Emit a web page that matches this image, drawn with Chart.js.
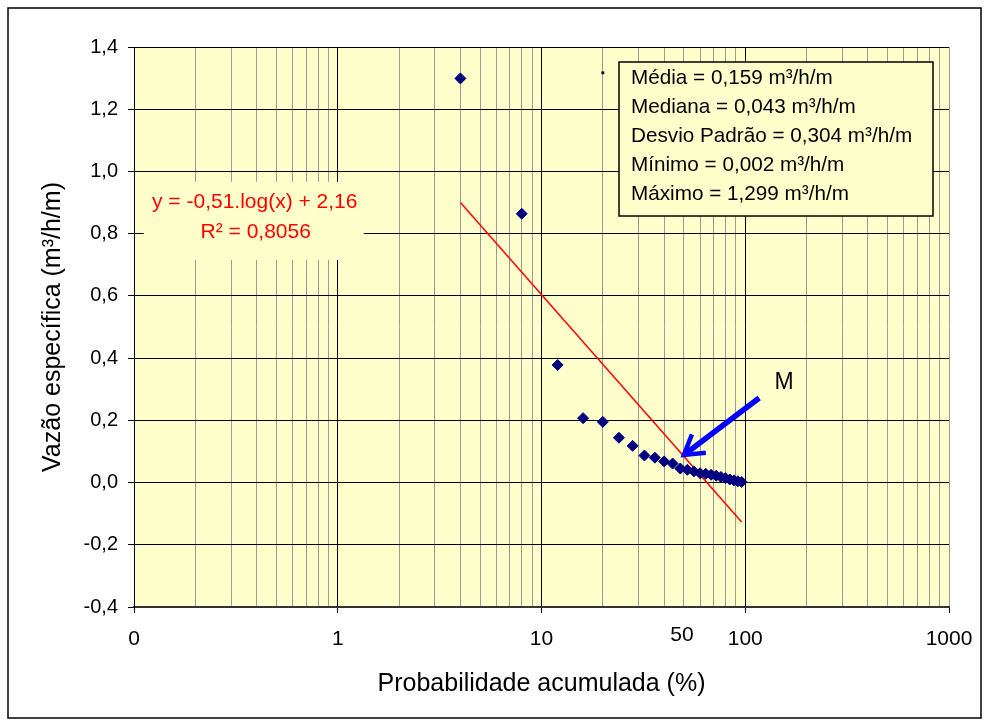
<!DOCTYPE html>
<html>
<head>
<meta charset="utf-8">
<script src="https://cdn.jsdelivr.net/npm/chart.js@4.4.1/dist/chart.umd.min.js"></script>
<style>
  html, body { margin: 0; padding: 0; background: #fff; }
  #wrap { position: relative; width: 989px; height: 727px; }
</style>
</head>
<body>
<div id="wrap"><canvas id="c"></canvas></div>
<script>
// ---- data ----
const probX = [4, 8, 12, 16, 20, 24, 28, 32, 36, 40, 44, 48, 52, 56, 60, 64, 68, 72, 76, 80, 84, 88, 92, 96];
const vazao = [1.299, 0.864, 0.378, 0.207, 0.195, 0.144, 0.118, 0.087, 0.080, 0.068, 0.061, 0.045,
               0.041, 0.036, 0.030, 0.028, 0.025, 0.022, 0.018, 0.014, 0.010, 0.007, 0.004, 0.002];
const trendX = [4, 96];
const trendY = [0.90, -0.127];
const strayX = [20];
const strayY = [1.317];
const arrowX = [117, 50];
const arrowY = [0.272, 0.089];
const arrowLabel = 'M';
const arrowLabelPos = [155, 0.32];
const xTickLabels = { '-1': '0', '0': '1', '1': '10', '2': '100', '3': '1000' };
const extraXLabel = { value: 50, text: '50' };
const eqLines = ['y = -0,51.log(x) + 2,16', 'R² = 0,8056'];
const eqPos = [1.0, 0.87];
const statsLines = [
  'Média = 0,159 m³/h/m',
  'Mediana = 0,043 m³/h/m',
  'Desvio Padrão = 0,304 m³/h/m',
  'Mínimo = 0,002 m³/h/m',
  'Máximo = 1,299 m³/h/m'
];
const yTitle = 'Vazão específica (m³/h/m)';
const xTitle = 'Probabilidade acumulada (%)';

const FONT = '"Liberation Sans", Arial, sans-serif';
const BG = '#FFFFCC';

function isDecade(v) {
  const l = Math.log10(v);
  return Math.abs(l - Math.round(l)) < 1e-6;
}

const decorPlugin = {
  id: 'decor',
  beforeDraw(chart) {
    const {ctx, chartArea: a} = chart;
    ctx.save();
    ctx.fillStyle = '#fff';
    ctx.fillRect(0, 0, chart.width, chart.height);
    ctx.fillStyle = BG;
    ctx.fillRect(a.left, a.top, a.right - a.left, a.bottom - a.top);
    ctx.restore();
  },
  beforeDatasetsDraw(chart) {
    const {ctx} = chart;
    const xs = chart.scales.x, ys = chart.scales.y;
    ctx.save();
    // equation label box
    const ex = xs.getPixelForValue(eqPos[0]) - 84;
    const ey = ys.getPixelForValue(eqPos[1]);
    ctx.fillStyle = BG;
    ctx.fillRect(ex - 110, ey - 30, 220, 78);
    ctx.fillStyle = '#FF0000';
    ctx.font = '21px ' + FONT;
    ctx.textAlign = 'center';
    ctx.textBaseline = 'middle';
    ctx.fillText(eqLines[0], ex + 1, ey - 10);
    ctx.fillText(eqLines[1], ex + 2, ey + 20);
    // stats box
    const bx = 619, by = 62, bw = 314, bh = 154;
    ctx.fillStyle = BG;
    ctx.fillRect(bx, by, bw, bh);
    ctx.strokeStyle = '#000';
    ctx.lineWidth = 1.5;
    ctx.strokeRect(bx, by, bw, bh);
    ctx.fillStyle = '#000';
    ctx.font = '20.7px ' + FONT;
    ctx.textAlign = 'left';
    ctx.textBaseline = 'middle';
    statsLines.forEach((t, i) => ctx.fillText(t, bx + 12, by + 16 + i * 29));
    ctx.restore();
  },
  afterDatasetsDraw(chart) {
    const {ctx} = chart;
    const xs = chart.scales.x, ys = chart.scales.y;
    ctx.save();
    // arrow
    const x1 = xs.getPixelForValue(arrowX[0]), y1 = ys.getPixelForValue(arrowY[0]);
    const x2 = xs.getPixelForValue(arrowX[1]), y2 = ys.getPixelForValue(arrowY[1]);
    const ang = Math.atan2(y2 - y1, x2 - x1);
    ctx.strokeStyle = '#0000FF';
    ctx.lineWidth = 5.5;
    ctx.lineCap = 'butt';
    ctx.beginPath();
    ctx.moveTo(x1, y1);
    ctx.lineTo(x2 - 4 * Math.cos(ang), y2 - 4 * Math.sin(ang));
    ctx.stroke();
    ctx.lineWidth = 4.5;
    const hl = 22, spread = 0.55;
    ctx.beginPath();
    ctx.moveTo(x2 - hl * Math.cos(ang - spread), y2 - hl * Math.sin(ang - spread));
    ctx.lineTo(x2, y2);
    ctx.lineTo(x2 - hl * Math.cos(ang + spread), y2 - hl * Math.sin(ang + spread));
    ctx.stroke();
    // M label
    ctx.fillStyle = '#000';
    ctx.font = '23px ' + FONT;
    ctx.textAlign = 'center';
    ctx.textBaseline = 'middle';
    ctx.fillText(arrowLabel, xs.getPixelForValue(arrowLabelPos[0]), ys.getPixelForValue(arrowLabelPos[1]));
    // extra "50" x label (raised)
    ctx.font = '21px ' + FONT;
    ctx.fillText(extraXLabel.text, xs.getPixelForValue(extraXLabel.value) - 2, chart.chartArea.bottom + 28);
    ctx.restore();
  },
  afterDraw(chart) {
    const {ctx} = chart;
    ctx.save();
    ctx.strokeStyle = '#000';
    ctx.lineWidth = 1.5;
    ctx.strokeRect(8, 8, 973, 710);
    ctx.restore();
  }
};

new Chart(document.getElementById('c'), {
  type: 'scatter',
  data: {
    datasets: [
      {
        label: 'Vazão',
        data: probX.map((x, i) => ({x, y: vazao[i]})),
        pointStyle: 'rectRot',
        pointRadius: 5.5,
        backgroundColor: '#000080',
        borderColor: '#000080',
        borderWidth: 1,
        showLine: false
      },
      {
        label: 'Tendência',
        data: trendX.map((x, i) => ({x, y: trendY[i]})),
        showLine: true,
        borderColor: '#FF0000',
        borderWidth: 1.5,
        pointRadius: 0,
        fill: false
      },
      {
        label: 'ponto',
        data: strayX.map((x, i) => ({x, y: strayY[i]})),
        pointStyle: 'rect',
        pointRadius: 2,
        backgroundColor: '#000',
        borderColor: '#000',
        borderWidth: 0
      }
    ]
  },
  options: {
    responsive: true,
    maintainAspectRatio: false,
    animation: false,
    devicePixelRatio: 1,
    layout: { padding: { top: 47, right: 40, left: 0, bottom: 0 } },
    plugins: { legend: { display: false }, tooltip: { enabled: false } },
    scales: {
      x: {
        type: 'logarithmic',
        min: 0.1,
        max: 1000,
        afterBuildTicks(scale) {
          const t = [];
          for (let e = -1; e <= 2; e++) {
            for (let m = 1; m <= 9; m++) t.push({ value: m * Math.pow(10, e), major: m === 1 });
          }
          t.push({ value: 1000, major: true });
          scale.ticks = t;
        },
        afterFit(scale) { scale.height = 120; },
        ticks: {
          autoSkip: false,
          maxRotation: 0,
          minRotation: 0,
          padding: 14,
          color: '#000',
          font: { family: FONT, size: 21 },
          callback(v) {
            const l = Math.log10(v);
            if (Math.abs(l - Math.round(l)) < 1e-6) return xTickLabels[String(Math.round(l))] || '';
            return '';
          }
        },
        grid: {
          color(ctx) {
            const v = ctx.tick && ctx.tick.value;
            if (v === undefined) return '#9a9a9a';
            if (isDecade(v) && v < 999) return '#000';
            return '#9a9a9a';
          },
          lineWidth: 1,
          tickLength: 6,
          tickColor(ctx) {
            const v = ctx.tick && ctx.tick.value;
            return (v !== undefined && isDecade(v)) ? '#000' : 'rgba(0,0,0,0)';
          }
        },
        border: { display: true, color: '#333', width: 2 },
        title: {
          display: true,
          text: xTitle,
          color: '#000',
          font: { family: FONT, size: 25, lineHeight: 1.2 },
          padding: { top: 0, bottom: 28 }
        }
      },
      y: {
        min: -0.4,
        max: 1.4,
        afterFit(scale) { scale.width = 134; },
        ticks: {
          stepSize: 0.2,
          padding: 10,
          color: '#000',
          font: { family: FONT, size: 20 },
          callback(v) {
            if (Math.abs(v) < 1e-9) return '0,0';
            return v.toFixed(1).replace('.', ',');
          }
        },
        grid: {
          color: '#000',
          lineWidth: 1,
          tickLength: 6,
          tickColor: '#000'
        },
        border: { display: true, color: '#000', width: 1 },
        title: {
          display: true,
          text: yTitle,
          color: '#000',
          font: { family: FONT, size: 25, lineHeight: 1.2 },
          padding: { top: 38, bottom: 0 }
        }
      }
    }
  },
  plugins: [decorPlugin]
});
</script>
</body>
</html>
